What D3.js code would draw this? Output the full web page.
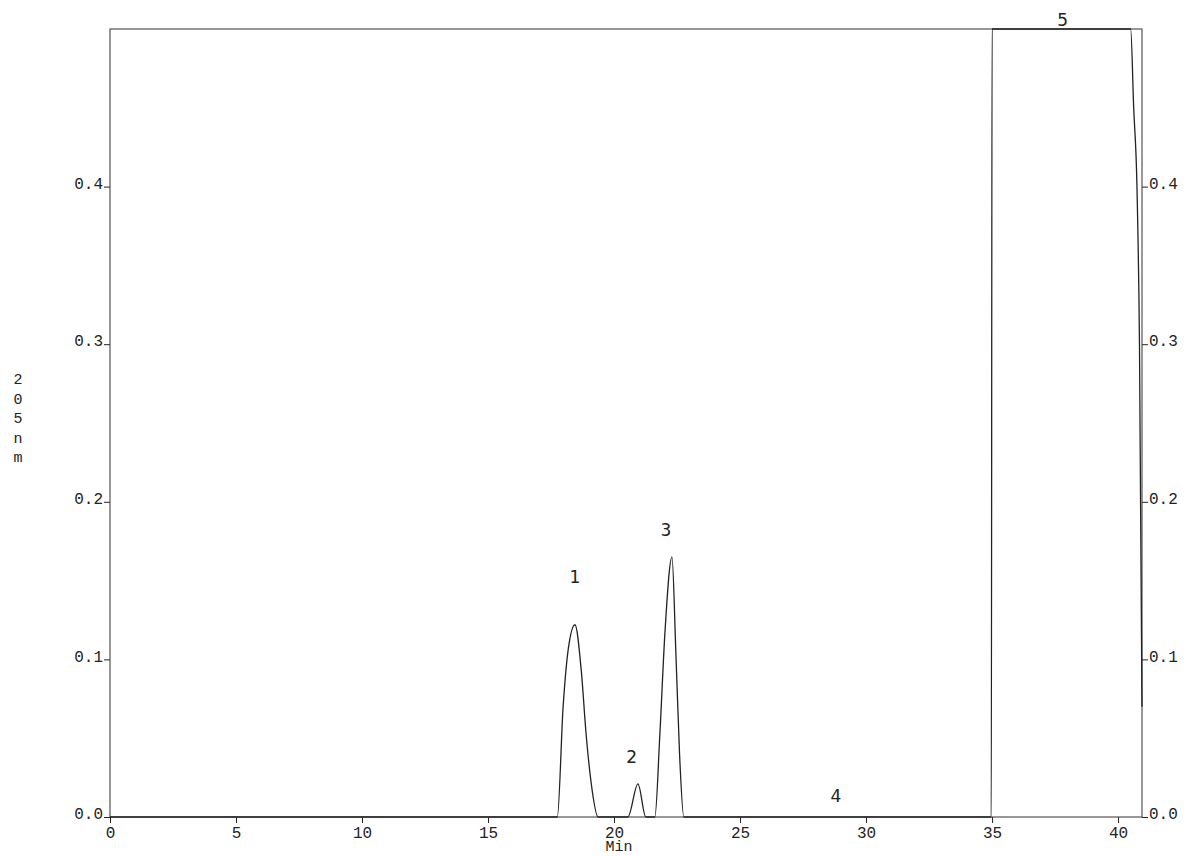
<!DOCTYPE html>
<html>
<head>
<meta charset="utf-8">
<script src="https://cdn.jsdelivr.net/npm/d3@7"></script>
<style>
    body { margin: 0; background: #fff; }
    .tick text { font-family: "Liberation Mono", "DejaVu Sans Mono", monospace; font-size: 16px; fill: #222; }
    .tick line { stroke: #222; }
    .peaklabel { font-family: "DejaVu Sans", sans-serif; font-size: 17px; fill: #222; }
</style>
</head>
<body>
<div id="chart"></div>
<script>

// retention time (min) of the detector trace
var traceTime = [0, 17.75, 17.98, 18.18, 18.45, 18.7, 18.89, 19.09, 19.37,
    20.55, 20.95, 21.26, 21.62, 21.82, 22.02, 22.3, 22.45, 22.6, 22.77,
    34.97, 35.0, 40.5, 40.62, 40.75, 40.85, 40.95];
// absorbance at 205 nm (clipped at 0.5 by the recorder)
var traceValue = [0, 0, 0.07, 0.106, 0.122, 0.093, 0.053, 0.022, 0,
    0, 0.021, 0, 0, 0.053, 0.117, 0.165, 0.106, 0.04, 0,
    0, 0.5, 0.5, 0.45, 0.4, 0.3, 0.07];

var xTicks = [0, 5, 10, 15, 20, 25, 30, 35, 40];
var yTicks = [0, 0.1, 0.2, 0.3, 0.4];

// peak numbers written on the trace
var peakNames = ["1", "2", "3", "4", "5"];
var peakTime = [18.45, 20.7, 22.06, 28.8, 37.8];
var peakValue = [0.152, 0.038, 0.182, 0.013, 0.506];

var yTitle = "205nm";
var xTitle = "Min";

/**
 * Constructor for the chromatogram
 */
function Chromatogram(){
    var self = this;
    self.init();
};

/**
 * Sets up svg, scales and frame
 */
Chromatogram.prototype.init = function(){
    var self = this;
    self.margin = {top: 29, right: 48, bottom: 39, left: 110};
    self.svgWidth = 1190;
    self.svgHeight = 856;
    self.width = self.svgWidth - self.margin.left - self.margin.right;
    self.height = self.svgHeight - self.margin.top - self.margin.bottom;

    self.svg = d3.select("#chart").append("svg")
        .attr("width", self.svgWidth)
        .attr("height", self.svgHeight);

    self.g = self.svg.append("g")
        .attr("transform", "translate(" + self.margin.left + "," + self.margin.top + ")");

    self.x = d3.scaleLinear().domain([0, 40.95]).range([0, self.width]);
    self.y = d3.scaleLinear().domain([0, 0.5]).range([self.height, 0]);
};

/**
 * Draws axes, trace and the labels
 */
Chromatogram.prototype.update = function(){
    var self = this;
    var fmt = d3.format(".1f");

    //left axis
    var left = self.g.append("g")
        .call(d3.axisLeft(self.y).tickValues(yTicks).tickFormat(fmt).tickSize(6).tickPadding(1));
    //right axis
    var right = self.g.append("g")
        .attr("transform", "translate(" + self.width + ",0)")
        .call(d3.axisRight(self.y).tickValues(yTicks).tickFormat(fmt).tickSize(6).tickPadding(1));
    //bottom axis
    var bottom = self.g.append("g")
        .attr("transform", "translate(0," + self.height + ")")
        .call(d3.axisBottom(self.x).tickValues(xTicks).tickFormat(d3.format("d")).tickSize(6).tickPadding(1));

    [left, right, bottom].forEach(function(a){
        a.select(".domain").remove();
    });
    bottom.selectAll(".tick text").attr("dy", "0.85em");
    left.selectAll(".tick text").attr("dy", "0.1em");
    right.selectAll(".tick text").attr("dy", "0.1em");

    //frame
    self.g.append("rect")
        .attr("x", 0).attr("y", 0)
        .attr("width", self.width).attr("height", self.height)
        .attr("fill", "none")
        .attr("stroke", "#333")
        .attr("stroke-width", 1);

    //detector trace
    var pts = traceTime.map(function(t, i){ return [t, traceValue[i]]; });
    var line = d3.line()
        .curve(d3.curveMonotoneX)
        .x(function(d){ return self.x(d[0]); })
        .y(function(d){ return self.y(d[1]); });
    self.g.append("path")
        .datum(pts)
        .attr("d", line)
        .attr("fill", "none")
        .attr("stroke", "#222")
        .attr("stroke-width", 1.3);

    //peak numbers
    self.g.selectAll(".peaklabel")
        .data(peakNames)
        .enter().append("text")
        .attr("class", "peaklabel")
        .attr("x", function(d, i){ return self.x(peakTime[i]); })
        .attr("y", function(d, i){ return self.y(peakValue[i]); })
        .attr("text-anchor", "middle")
        .attr("dy", "0.35em")
        .text(function(d){ return d; });

    //axis titles
    self.svg.append("text")
        .attr("x", self.margin.left + self.x(20.2))
        .attr("y", 851)
        .attr("text-anchor", "middle")
        .style("font-family", "Liberation Mono, monospace")
        .style("font-size", "15px")
        .style("fill", "#222")
        .text(xTitle);

    self.svg.append("g").selectAll("text")
        .data(yTitle.split(""))
        .enter().append("text")
        .attr("x", 18)
        .attr("y", function(d, i){ return 384 + i * 19.5; })
        .attr("text-anchor", "middle")
        .style("font-family", "Liberation Mono, monospace")
        .style("font-size", "15px")
        .style("fill", "#222")
        .text(function(d){ return d; });
};

var chart = new Chromatogram();
chart.update();

</script>
</body>
</html>
